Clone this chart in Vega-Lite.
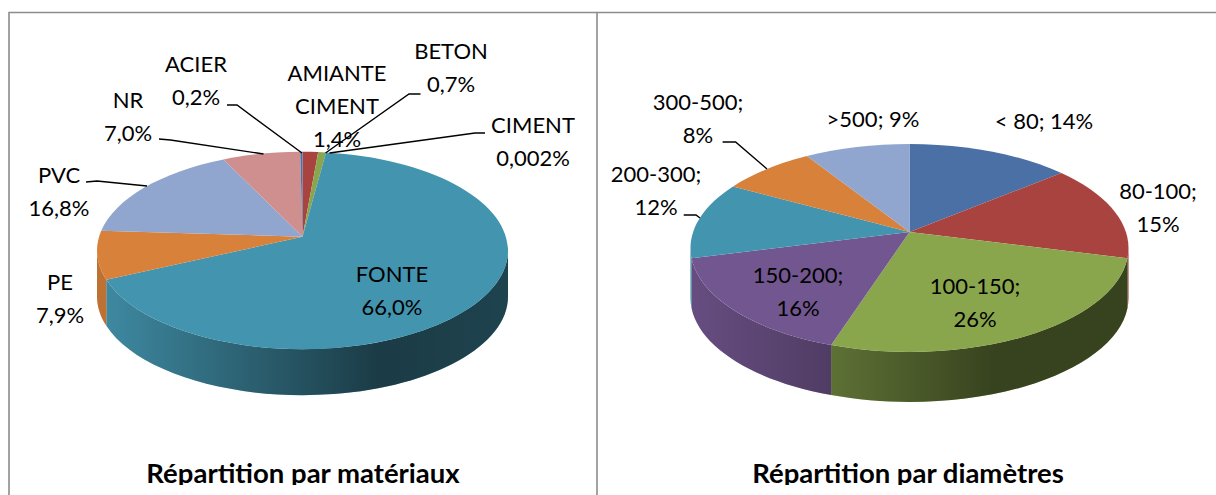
{
"$schema":"https://vega.github.io/schema/vega-lite/v6.json",
"width":1216,"height":495,"padding":0,
"autosize":{"type":"none"},
"background":"white",
"view":{"stroke":null},
"datasets":{
"parts":[
{"pie":"materiaux","ord":1,"slice":"AMIANTE CIMENT","value":1.4,"label":"AMIANTE\nCIMENT\n1,4%"},
{"pie":"materiaux","ord":2,"slice":"BETON","value":0.7,"label":"BETON\n0,7%"},
{"pie":"materiaux","ord":3,"slice":"CIMENT","value":0.002,"label":"CIMENT\n0,002%"},
{"pie":"materiaux","ord":4,"slice":"FONTE","value":66.0,"label":"FONTE\n66,0%"},
{"pie":"materiaux","ord":5,"slice":"PE","value":7.9,"label":"PE\n7,9%"},
{"pie":"materiaux","ord":6,"slice":"PVC","value":16.8,"label":"PVC\n16,8%"},
{"pie":"materiaux","ord":7,"slice":"NR","value":7.0,"label":"NR\n7,0%"},
{"pie":"materiaux","ord":8,"slice":"ACIER","value":0.2,"label":"ACIER\n0,2%"},
{"pie":"diametres","ord":1,"slice":"< 80","value":14,"label":"< 80; 14%"},
{"pie":"diametres","ord":2,"slice":"80-100","value":15,"label":"80-100;\n15%"},
{"pie":"diametres","ord":3,"slice":"100-150","value":26,"label":"100-150;\n26%"},
{"pie":"diametres","ord":4,"slice":"150-200","value":16,"label":"150-200;\n16%"},
{"pie":"diametres","ord":5,"slice":"200-300","value":12,"label":"200-300;\n12%"},
{"pie":"diametres","ord":6,"slice":"300-500","value":8,"label":"300-500;\n8%"},
{"pie":"diametres","ord":7,"slice":">500","value":9,"label":">500; 9%"}
],
"titres":[{"pie":"materiaux","titre":"Répartition par matériaux"},{"pie":"diametres","titre":"Répartition par diamètres"}]
},
"data":{"name":"parts"},
"transform":[
{"window":[{"op":"sum","field":"value","as":"c1"}],"groupby":["pie"],"sort":[{"field":"ord"}],"frame":[null,0]},
{"joinaggregate":[{"op":"sum","field":"value","as":"tot"}],"groupby":["pie"]},
{"calculate":"datum.pie==='materiaux'?302.5:909.5","as":"cx"},
{"calculate":"datum.pie==='materiaux'?250.5:248","as":"cy"},
{"calculate":"datum.pie==='materiaux'?205.5:219","as":"rx"},
{"calculate":"datum.pie==='materiaux'?98.7:104","as":"ry"},
{"calculate":"datum.pie==='materiaux'?-0.14:-0.154","as":"A"},
{"calculate":"datum.pie==='materiaux'?46:50","as":"d"},
{"calculate":"2*PI*(datum.c1-datum.value)/datum.tot","as":"a0"},
{"calculate":"2*PI*datum.c1/datum.tot","as":"a1"},
{"calculate":"1+datum.A*(-cos(datum.a0))","as":"q0"},
{"calculate":"1+datum.A*(-cos(datum.a1))","as":"q1"},
{"calculate":"sin(datum.a0)*sqrt(1-datum.A*datum.A)/datum.q0","as":"ex0"},
{"calculate":"(-cos(datum.a0)+datum.A)/datum.q0","as":"ey0"},
{"calculate":"sin(datum.a1)*sqrt(1-datum.A*datum.A)/datum.q1","as":"ex1"},
{"calculate":"(-cos(datum.a1)+datum.A)/datum.q1","as":"ey1"},
{"calculate":"atan2(datum.ey1,datum.ex1)-atan2(datum.ey0,datum.ex0)","as":"dp"},
{"calculate":"(datum.dp<0?datum.dp+2*PI:datum.dp)>PI?1:0","as":"large"},
{"calculate":"'M0,'+round(datum.ry*datum.A*100)/100+' L'+round(datum.rx*datum.ex0*100)/100+','+round(datum.ry*datum.ey0*100)/100+' A'+datum.rx+','+datum.ry+' 0 '+datum.large+' 1 '+round(datum.rx*datum.ex1*100)/100+','+round(datum.ry*datum.ey1*100)/100+' Z'","as":"facePath"},
{"calculate":"acos(datum.A)","as":"lo"},
{"calculate":"2*PI-datum.lo","as":"hi"},
{"calculate":"max(datum.lo,min(datum.hi,datum.a0))","as":"w0"},
{"calculate":"max(datum.lo,min(datum.hi,datum.a1))","as":"w1"},
{"calculate":"1+datum.A*(-cos(datum.w0))","as":"r0"},
{"calculate":"1+datum.A*(-cos(datum.w1))","as":"r1"},
{"calculate":"round(datum.rx*sin(datum.w0)*sqrt(1-datum.A*datum.A)/datum.r0*100)/100","as":"wx0"},
{"calculate":"round(datum.ry*(-cos(datum.w0)+datum.A)/datum.r0*100)/100","as":"wy0"},
{"calculate":"round(datum.rx*sin(datum.w1)*sqrt(1-datum.A*datum.A)/datum.r1*100)/100","as":"wx1"},
{"calculate":"round(datum.ry*(-cos(datum.w1)+datum.A)/datum.r1*100)/100","as":"wy1"},
{"calculate":"'M'+datum.wx0+','+datum.wy0+' A'+datum.rx+','+datum.ry+' 0 0 1 '+datum.wx1+','+datum.wy1+' L'+datum.wx1+','+(datum.wy1+datum.d)+' A'+datum.rx+','+datum.ry+' 0 0 0 '+datum.wx0+','+(datum.wy0+datum.d)+' Z'","as":"wallPath"},
{"calculate":"({'AMIANTE CIMENT':337,'BETON':451,'CIMENT':533,'FONTE':392,'PE':60,'PVC':59,'NR':128,'ACIER':196,'< 80':1044,'80-100':1158,'100-150':975,'150-200':798,'200-300':656,'300-500':698,'>500':873})[datum.slice]","as":"lx"},
{"calculate":"({'AMIANTE CIMENT':74,'BETON':52,'CIMENT':126,'FONTE':275,'PE':283,'PVC':176,'NR':101,'ACIER':65,'< 80':122,'80-100':192,'100-150':287,'150-200':276,'200-300':175,'300-500':103,'>500':120})[datum.slice]","as":"ly"},
{"calculate":"({'BETON':'M420.5,94 L409,94 L325.5,153','CIMENT':'M485,133 L475,133 L329.5,153','PVC':'M86,182 L97,181 L147,186','NR':'M159,139 L170.5,140 L263.5,154','ACIER':'M227,105 L237,105 L302,153','200-300':'M683.7,215 L696,215 L700,218','300-500':'M722.6,142 L735.6,142 L767,169'})[datum.slice]||''","as":"leader"}
],
"layer":[
{"transform":[{"filter":"datum.w1>datum.w0"}],
 "mark":{"type":"point","filled":true,"opacity":1,"size":4,"strokeWidth":0},
 "encoding":{
  "x":{"field":"cx","type":"quantitative","axis":null,"scale":{"domain":[0,1216],"nice":false,"zero":false}},
  "y":{"field":"cy","type":"quantitative","axis":null,"scale":{"domain":[495,0],"nice":false,"zero":false}},
  "shape":{"field":"wallPath","type":"nominal","scale":null},
  "fill":{"field":"slice","type":"nominal","legend":null,"scale":{
   "domain":["AMIANTE CIMENT","BETON","CIMENT","FONTE","PE","PVC","NR","ACIER","< 80","80-100","100-150","150-200","200-300","300-500",">500"],
   "range":["#A9433F","#8AA64D","#72568F","#4394AE","#D8813B","#91A6CE","#CF8F8E","#4A70A5","#4A70A5","#A9433F","#8AA64D","#72568F","#4394AE","#D8813B","#91A6CE"]}}
 }},
{"transform":[{"filter":"datum.slice==='FONTE'"}],
 "mark":{"type":"point","filled":true,"opacity":1,"size":4,"strokeWidth":0,"fill":{"gradient":"linear","x1":0,"y1":0,"x2":1,"y2":0,"stops":[{"offset":0,"color":"rgba(0,0,0,0.08)"},{"offset":0.68,"color":"rgba(0,0,0,0.6)"},{"offset":1,"color":"rgba(0,0,0,0.55)"}]}},
 "encoding":{"x":{"field":"cx","type":"quantitative"},"y":{"field":"cy","type":"quantitative"},"shape":{"field":"wallPath","type":"nominal","scale":null}}},
{"transform":[{"filter":"datum.slice==='100-150'"}],
 "mark":{"type":"point","filled":true,"opacity":1,"size":4,"strokeWidth":0,"fill":{"gradient":"linear","x1":0,"y1":0,"x2":1,"y2":0,"stops":[{"offset":0,"color":"rgba(0,0,0,0.32)"},{"offset":0.55,"color":"rgba(0,0,0,0.6)"},{"offset":1,"color":"rgba(0,0,0,0.6)"}]}},
 "encoding":{"x":{"field":"cx","type":"quantitative"},"y":{"field":"cy","type":"quantitative"},"shape":{"field":"wallPath","type":"nominal","scale":null}}},
{"transform":[{"filter":"datum.slice==='150-200'"}],
 "mark":{"type":"point","filled":true,"opacity":1,"size":4,"strokeWidth":0,"fill":{"gradient":"linear","x1":0,"y1":0,"x2":1,"y2":0,"stops":[{"offset":0,"color":"rgba(0,0,0,0.1)"},{"offset":1,"color":"rgba(0,0,0,0.3)"}]}},
 "encoding":{"x":{"field":"cx","type":"quantitative"},"y":{"field":"cy","type":"quantitative"},"shape":{"field":"wallPath","type":"nominal","scale":null}}},
{"transform":[{"filter":"datum.slice==='PE'||datum.slice==='200-300'||datum.slice==='80-100'"},{"filter":"datum.w1>datum.w0"}],
 "mark":{"type":"point","filled":true,"opacity":1,"size":4,"strokeWidth":0,"fill":"rgba(0,0,0,0.12)"},
 "encoding":{"x":{"field":"cx","type":"quantitative"},"y":{"field":"cy","type":"quantitative"},"shape":{"field":"wallPath","type":"nominal","scale":null}}},
{"mark":{"type":"point","filled":true,"opacity":1,"size":4,"strokeWidth":0},
 "encoding":{
  "x":{"field":"cx","type":"quantitative"},"y":{"field":"cy","type":"quantitative"},
  "shape":{"field":"facePath","type":"nominal","scale":null},
  "fill":{"field":"slice","type":"nominal","legend":null}
 }},
{"transform":[{"filter":"datum.leader!==''"}],
 "mark":{"type":"point","filled":false,"opacity":1,"size":4,"strokeWidth":1.4,"stroke":"#000000"},
 "encoding":{"x":{"datum":0},"y":{"datum":0},"shape":{"field":"leader","type":"nominal","scale":null}}},
{"mark":{"type":"text","font":"Lato","fontSize":22,"lineBreak":"\n","lineHeight":33,"align":"center","baseline":"middle","color":"#000000"},
 "encoding":{"x":{"field":"lx","type":"quantitative"},"y":{"field":"ly","type":"quantitative"},"text":{"field":"label","type":"nominal"}}},
{"data":{"name":"titres"},
 "transform":[{"calculate":"datum.pie==='materiaux'?303:908","as":"tx"},{"calculate":"483","as":"ty"}],
 "mark":{"type":"text","font":"Lato","fontWeight":"bold","fontSize":27.5,"align":"center","baseline":"alphabetic","color":"#000000"},
 "encoding":{"x":{"field":"tx","type":"quantitative"},"y":{"field":"ty","type":"quantitative"},"text":{"field":"titre","type":"nominal"}}},
{"data":{"values":[{"part":"bas"}]},
 "mark":{"type":"rect","fill":"white"},
 "encoding":{"x":{"datum":11},"x2":{"datum":1216},"y":{"datum":485},"y2":{"datum":495}}},
{"data":{"values":[{"part":"cadre"}]},
 "transform":[{"calculate":"'M9,495 L9,12.5 L1216,12.5 M597,12.5 L597,495'","as":"cadre"}],
 "mark":{"type":"point","filled":false,"opacity":1,"size":4,"strokeWidth":1.6,"stroke":"#8c8c8c"},
 "encoding":{"x":{"datum":0},"y":{"datum":0},"shape":{"field":"cadre","type":"nominal","scale":null}}}
]
}
